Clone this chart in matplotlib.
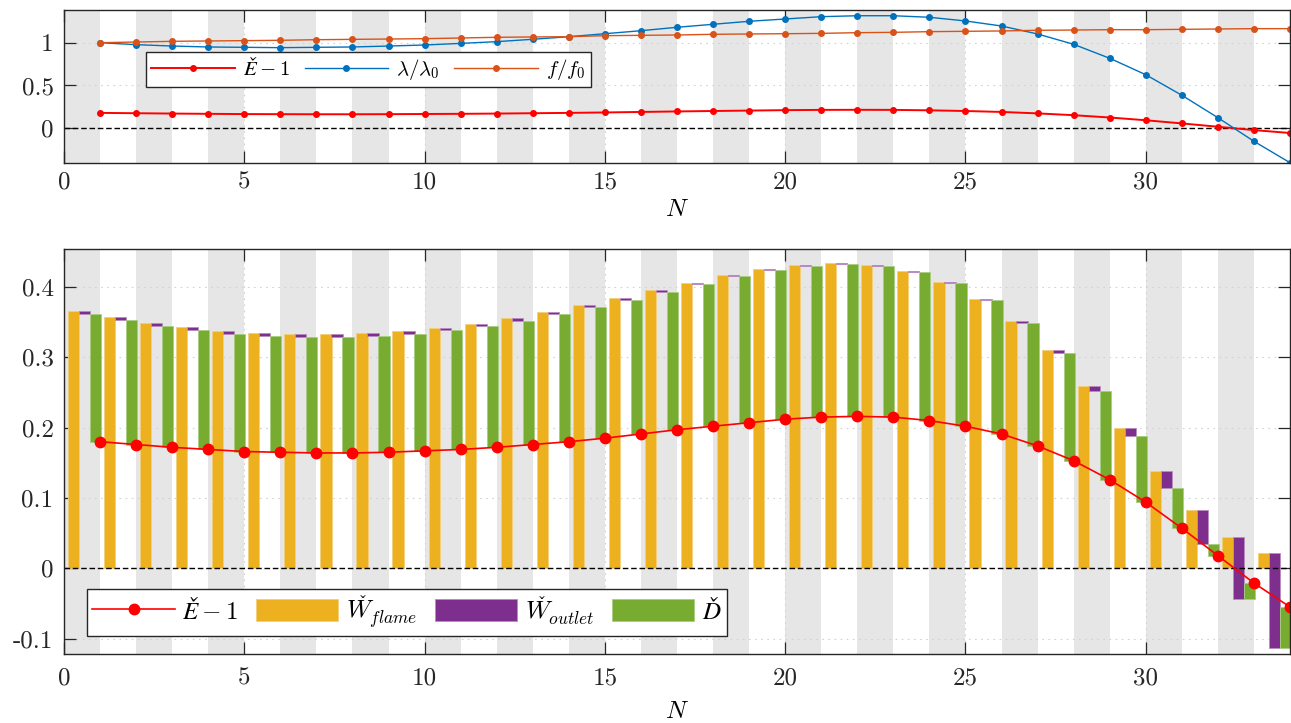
import numpy as np
import matplotlib
matplotlib.use('Agg')
import matplotlib.pyplot as plt

plt.rcParams['mathtext.fontset'] = 'cm'

# ---------------- data ----------------
N = np.arange(1, 35)

E_minus_1 = [0.180, 0.176, 0.172, 0.169, 0.166, 0.165, 0.164, 0.164, 0.165, 0.167,
             0.169, 0.172, 0.176, 0.180, 0.185, 0.191, 0.197, 0.202, 0.207, 0.212,
             0.215, 0.216, 0.215, 0.210, 0.202, 0.191, 0.174, 0.153, 0.126, 0.094,
             0.057, 0.018, -0.021, -0.055]
W_flame = [0.366, 0.357, 0.349, 0.343, 0.338, 0.335, 0.333, 0.333, 0.335, 0.338,
           0.342, 0.348, 0.356, 0.365, 0.374, 0.385, 0.395, 0.406, 0.417, 0.425,
           0.431, 0.434, 0.431, 0.4225, 0.407, 0.383, 0.351, 0.310, 0.259, 0.200,
           0.139, 0.083, 0.044, 0.022]
W_outlet = [0.005, 0.004, 0.004, 0.0045, 0.005, 0.005, 0.004, 0.004, 0.005, 0.005,
            0.0035, 0.0035, 0.004, 0.004, 0.003, 0.003, 0.0015, 0.0015, 0.0015, 0.0015,
            0.0015, 0.0015, 0.0015, 0.0015, 0.002, 0.0015, 0.002, 0.004, 0.007, 0.012,
            0.025, 0.049, 0.087, 0.135]
lam_ratio = [1.000, 0.977, 0.961, 0.950, 0.946, 0.942, 0.946, 0.950, 0.961, 0.973,
             0.992, 1.012, 1.040, 1.070, 1.105, 1.140, 1.180, 1.215, 1.250, 1.277,
             1.304, 1.315, 1.315, 1.297, 1.254, 1.195, 1.102, 0.981, 0.818, 0.626,
             0.386, 0.124, -0.152, -0.402]
f_ratio = [1.000, 1.008, 1.016, 1.020, 1.024, 1.028, 1.035, 1.039, 1.043, 1.047,
           1.055, 1.063, 1.067, 1.070, 1.082, 1.086, 1.090, 1.098, 1.102, 1.105,
           1.109, 1.117, 1.121, 1.129, 1.133, 1.137, 1.145, 1.148, 1.152, 1.152,
           1.156, 1.160, 1.164, 1.164]

E_minus_1 = np.array(E_minus_1)
W_flame = np.array(W_flame)
W_outlet = np.array(W_outlet)
D = W_flame - W_outlet - E_minus_1

top_yticks = [0, 0.5, 1]
top_yticklabels = ['0', '0.5', '1']
bot_yticks = [-0.1, 0, 0.1, 0.2, 0.3, 0.4]
bot_yticklabels = ['-0.1', '0', '0.1', '0.2', '0.3', '0.4']
xticks = [0, 5, 10, 15, 20, 25, 30]
xticklabels = ['0', '5', '10', '15', '20', '25', '30']

lbl_E = '$\u011a-1$'
lbl_lam = r'$\lambda/\lambda_0$'
lbl_f = r'$f/f_0$'
lbl_Wf = '$W^{\\hspace{-0.38}\u030c}_{flame}$'
lbl_Wo = '$W^{\\hspace{-0.38}\u030c}_{outlet}$'
lbl_D = '$\u010e$'

# ---------------- style ----------------
c_yellow = '#EDB120'
c_purple = '#7E2F8E'
c_green = '#77AC30'
c_blue = '#0072BD'
c_orange = '#D95319'
c_red = '#FF0000'
c_stripe = '#E6E6E6'
c_grid = '#d2d2d2'
c_spine = '#262626'
tick_fs = 18
tick_font = 'cmr10'

W, H = 1291, 723
fig = plt.figure(figsize=(W / 100, H / 100), dpi=100)
ax1 = fig.add_axes([64 / W, 1 - 162.7 / H, 1226 / W, 152.7 / H])
ax2 = fig.add_axes([64 / W, 1 - 654.3 / H, 1226 / W, 405.3 / H])


def style_axes(ax, yticks, yticklabels, ylim, xpad, labelpad):
    ax.set_xlim(0, 34)
    ax.set_ylim(*ylim)
    for k in range(0, 34, 2):
        ax.axvspan(k, k + 1, color=c_stripe, lw=0, zorder=0)
    for xv in xticks[1:]:
        ax.axvline(xv, color=c_grid, lw=0.8, ls=(0, (1.5, 4)), zorder=0.5)
    for yv in yticks:
        if yv != 0:
            ax.axhline(yv, color=c_grid, lw=0.8, ls=(0, (1.5, 4)), zorder=0.5)
    ax.axhline(0, color='black', lw=1.0, ls=(0, (4, 2)), zorder=3)
    ax.set_xticks(xticks)
    ax.set_xticklabels(xticklabels, fontfamily=tick_font, fontsize=tick_fs)
    ax.set_yticks(yticks)
    ax.set_yticklabels(yticklabels, fontfamily=tick_font, fontsize=tick_fs)
    ax.tick_params(direction='in', length=8.8, width=0.9, color=c_spine,
                   top=True, right=True, labelcolor='#262626')
    ax.tick_params(axis='x', pad=xpad)
    ax.tick_params(axis='y', pad=7.5)
    for s in ax.spines.values():
        s.set_color(c_spine)
        s.set_linewidth(1.0)
        s.set_zorder(5)
    ax.set_xlabel(r'$N$', fontsize=18, labelpad=labelpad)


# ---------------- top panel ----------------
style_axes(ax1, top_yticks, top_yticklabels, (-0.402, 1.382), 6.5, 2)
l1, = ax1.plot(N, E_minus_1, '-o', color=c_red, lw=1.4, ms=4, zorder=4)
l2, = ax1.plot(N, lam_ratio, '-o', color=c_blue, lw=1.0, ms=4, zorder=4)
l3, = ax1.plot(N, f_ratio, '-o', color=c_orange, lw=1.0, ms=4, zorder=4)
leg1 = ax1.legend([l1, l2, l3], [lbl_E, lbl_lam, lbl_f],
                  loc='upper left', bbox_to_anchor=(0.067, 0.725), borderaxespad=0,
                  ncol=3, fontsize=15, handlelength=4.0, columnspacing=0.7,
                  handletextpad=0.4, fancybox=False, framealpha=1,
                  edgecolor='#262626', borderpad=0.25)
leg1.get_frame().set_linewidth(1.0)
leg1.set_zorder(10)

# ---------------- bottom panel ----------------
style_axes(ax2, bot_yticks, bot_yticklabels, (-0.1223, 0.454), 9.5, 7)
bw = 0.31
b1 = ax2.bar(N - 1 + 0.265, W_flame, width=bw, bottom=0, color=c_yellow,
             edgecolor='#f3cf7c', lw=0.6, zorder=2)
b2 = ax2.bar(N - 1 + 0.57, -W_outlet, width=bw, bottom=W_flame, color=c_purple,
             edgecolor='#b98bc2', lw=0.6, zorder=2)
b3 = ax2.bar(N - 1 + 0.875, -D, width=bw, bottom=W_flame - W_outlet, color=c_green,
             edgecolor='#a9cd85', lw=0.6, zorder=2)
l4, = ax2.plot(N, E_minus_1, '-o', color=c_red, lw=1.2, ms=7.5, zorder=4)
leg2 = ax2.legend([l4, b1, b2, b3], [lbl_E, lbl_Wf, lbl_Wo, lbl_D],
                  loc='lower left', bbox_to_anchor=(0.019, 0.045), borderaxespad=0,
                  ncol=4, fontsize=18, handlelength=3.3, handleheight=0.96,
                  columnspacing=0.7, handletextpad=0.3, fancybox=False, framealpha=1,
                  edgecolor='#262626', borderpad=0.2)
leg2.get_frame().set_linewidth(1.0)
leg2.set_zorder(10)

fig.savefig('out.png', dpi=100)
